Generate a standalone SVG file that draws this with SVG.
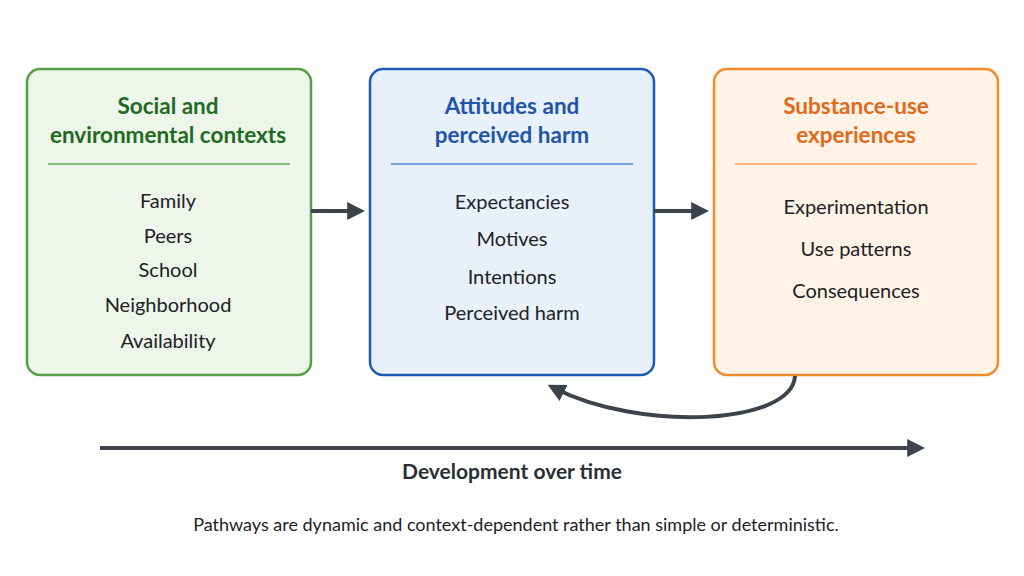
<svg xmlns="http://www.w3.org/2000/svg" width="1024" height="576" viewBox="0 0 1024 576">
<defs>
<style>
.title{font-family:Lato,"Liberation Sans",sans-serif;font-weight:bold;font-size:22.5px;text-anchor:middle}
.item{font-family:Lato,"Liberation Sans",sans-serif;font-size:20px;fill:#1e2126;text-anchor:middle}
.conn{stroke:#3d434b;stroke-width:4;fill:none}
</style>
<marker id="ah" viewBox="0 0 10 10" refX="6" refY="5" markerWidth="4.5" markerHeight="4.5" orient="auto" markerUnits="strokeWidth">
<path d="M0,0 L10,5 L0,10 z" fill="#3d434b"/>
</marker>
</defs>
<rect width="1024" height="576" fill="#ffffff"/>
<g id="node-social">
<rect x="27" y="69" width="284" height="306" rx="13" fill="#eef5ea" stroke="#55a044" stroke-width="2.5"/>
<text class="title" x="168" y="114" fill="#1f6b1f">Social and</text>
<text class="title" x="168" y="143" fill="#1f6b1f">environmental contexts</text>
<line x1="48" y1="164" x2="290" y2="164" stroke="#6ab25a" stroke-width="1.5"/>
<text class="item" x="168" y="208">Family</text>
<text class="item" x="168" y="243">Peers</text>
<text class="item" x="168" y="277">School</text>
<text class="item" x="168" y="312">Neighborhood</text>
<text class="item" x="168" y="348">Availability</text>
</g>
<g id="node-attitudes">
<rect x="370" y="69" width="284" height="306" rx="13" fill="#e8f0fa" stroke="#1f5bb0" stroke-width="2.5"/>
<text class="title" x="512" y="114" fill="#1f55a8">Attitudes and</text>
<text class="title" x="512" y="143" fill="#1f55a8">perceived harm</text>
<line x1="391" y1="164" x2="633" y2="164" stroke="#4f86d0" stroke-width="1.5"/>
<text class="item" x="512" y="209">Expectancies</text>
<text class="item" x="512" y="246">Motives</text>
<text class="item" x="512" y="284">Intentions</text>
<text class="item" x="512" y="320">Perceived harm</text>
</g>
<g id="node-substance">
<rect x="714" y="69" width="284" height="306" rx="13" fill="#fef3e6" stroke="#f08a2a" stroke-width="2.5"/>
<text class="title" x="856" y="114" fill="#e06a1a">Substance-use</text>
<text class="title" x="856" y="143" fill="#e06a1a">experiences</text>
<line x1="735" y1="164" x2="977" y2="164" stroke="#f5a050" stroke-width="1.5"/>
<text class="item" x="856" y="214">Experimentation</text>
<text class="item" x="856" y="256">Use patterns</text>
<text class="item" x="856" y="298">Consequences</text>
</g>
<g id="connectors">
<line class="conn" x1="311" y1="211" x2="358" y2="211" marker-end="url(#ah)"/>
<line class="conn" x1="654" y1="211" x2="702" y2="211" marker-end="url(#ah)"/>
<path class="conn" d="M795,376 C792,425 640,432 554,388" marker-end="url(#ah)"/>
<line class="conn" x1="100" y1="448" x2="918" y2="448" marker-end="url(#ah)"/>
</g>
<text x="512" y="479" font-family="Lato,'Liberation Sans',sans-serif" font-weight="bold" font-size="21" fill="#2a2f36" text-anchor="middle">Development over time</text>
<text x="516" y="531" font-family="Lato,'Liberation Sans',sans-serif" font-size="18" fill="#1e2126" text-anchor="middle">Pathways are dynamic and context-dependent rather than simple or deterministic.</text>
</svg>
